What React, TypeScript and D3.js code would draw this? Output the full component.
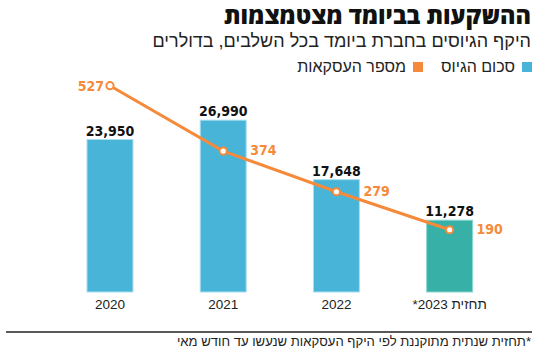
import React from 'react';
import * as d3 from 'd3';

const years = ['2020', '2021', '2022', '2023'];
const yearLabels = ['2020', '2021', '2022', 'תחזית 2023*'];
const raised = [23950, 26990, 17648, 11278];
const deals = [527, 374, 279, 190];

const W = 550;
const H = 354;
const BLUE = '#48b4d8';
const TEAL = '#37b0a7';
const ORANGE = '#f68a3b';
const numFont = '"Liberation Sans Narrow", "DejaVu Sans Condensed", "Arial Narrow", sans-serif';
const titleFont = '"Open Sans", "Liberation Sans", Arial, sans-serif';
const hebFont = '"Liberation Sans", Arial, sans-serif';

export default function App() {
  // scales
  const x = d3.scaleBand().domain(years).range([87, 472.6]).paddingInner(0.594).paddingOuter(0);
  const yBar = d3.scaleLinear().domain([0, 30000]).range([292, 101]);
  const yLine = d3.scaleLinear().domain([0, 600]).range([311, 54.5]);
  const cx = (i: number) => (x(years[i]) as number) + x.bandwidth() / 2;

  const line = d3.line<number>()
    .x((d, i) => cx(i))
    .y(d => yLine(d));

  const fmt = d3.format(',');

  return (
    <svg width={W} height={H} style={{ position: 'absolute', left: 0, top: 0, background: '#fff' }}>
      {/* titles */}
      <text x={531} y={24} direction="rtl" textAnchor="start" fontFamily={titleFont} fontWeight={800} fontSize={23.5} fill="#111">
        ההשקעות בביומד מצטמצמות
      </text>
      <text x={531} y={47} direction="rtl" textAnchor="start" fontFamily={hebFont} fontSize={18} fill="#222">
        היקף הגיוסים בחברת ביומד בכל השלבים, בדולרים
      </text>

      {/* legend */}
      <rect x={522} y={62} width={10} height={10} fill={BLUE} />
      <text x={515} y={72} direction="rtl" textAnchor="start" fontFamily={hebFont} fontSize={16} fill="#222">סכום הגיוס</text>
      <rect x={413} y={62} width={10} height={10} fill={ORANGE} />
      <text x={406} y={72} direction="rtl" textAnchor="start" fontFamily={hebFont} fontSize={16} fill="#222">מספר העסקאות</text>

      {/* bars */}
      {raised.map((v, i) => (
        <g key={years[i]}>
          <rect
            x={x(years[i])}
            y={yBar(v)}
            width={x.bandwidth()}
            height={yBar(0) - yBar(v)}
            fill={i === 3 ? TEAL : BLUE}
            stroke={i === 3 ? '#8ad6cf' : '#a8def0'}
            strokeWidth={1}
          />
          <text x={cx(i)} y={yBar(v) - 4} textAnchor="middle" fontFamily={numFont} fontWeight={700} fontSize={14} fill="#111">
            {fmt(v)}
          </text>
          <text x={cx(i)} y={309} direction="rtl" textAnchor="middle" fontFamily={hebFont} fontSize={13.5} fill="#222">
            {yearLabels[i]}
          </text>
        </g>
      ))}

      {/* line */}
      <path d={line(deals) || ''} fill="none" stroke={ORANGE} strokeWidth={3} />
      {deals.map((v, i) => (
        <g key={'d' + i}>
          <circle cx={cx(i)} cy={yLine(v)} r={3.6} fill="#fff" stroke={ORANGE} strokeWidth={2} />
          <text
            x={i === 0 ? cx(i) - 6 : (x(years[i]) as number) + x.bandwidth() + 4}
            y={yLine(v) + (i === 0 ? 5 : 4)}
            textAnchor={i === 0 ? 'end' : 'start'}
            fontFamily={numFont}
            fontWeight={700}
            fontSize={14}
            fill={ORANGE}
          >
            {v}
          </text>
        </g>
      ))}

      {/* footer */}
      <line x1={6} x2={532} y1={332} y2={332} stroke="#222" strokeWidth={1.3} />
      <text x={531} y={346} direction="rtl" textAnchor="start" fontFamily={hebFont} fontSize={13.1} fill="#222">
        *תחזית שנתית מתוקננת לפי היקף העסקאות שנעשו עד חודש מאי
      </text>
    </svg>
  );
}
